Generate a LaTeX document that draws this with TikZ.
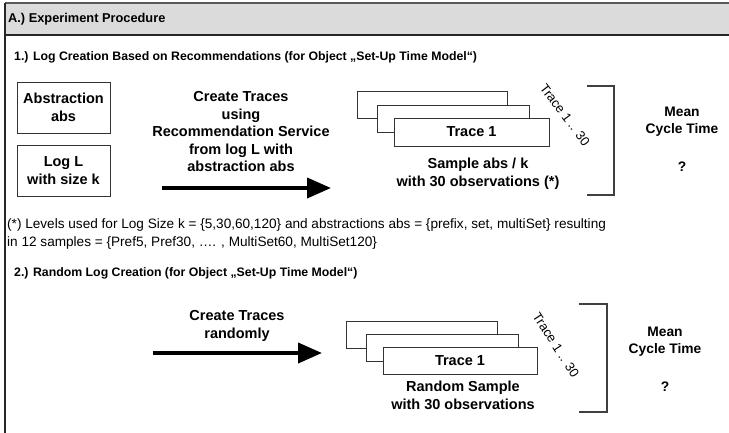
\documentclass[tikz,border=0pt]{standalone}
\usepackage{fontspec}
\setmainfont{Liberation Sans}
\usetikzlibrary{arrows.meta}
\begin{document}
\begin{tikzpicture}[x=1pt,y=-1pt,
  lbl/.style={font=\bfseries\fontsize{14.5}{17.5}\selectfont,align=center,inner sep=0pt},
  mlbl/.style={font=\bfseries\fontsize{13.8}{17.5}\selectfont,align=center,inner sep=0pt},
  ttl/.style={font=\bfseries\fontsize{12.3}{14}\selectfont,anchor=west,inner sep=0pt},
  inbox/.style={draw=black!80,line width=0.9pt,fill=white,inner sep=0pt,minimum width=93pt,minimum height=51pt,font=\bfseries\fontsize{14.5}{17.5}\selectfont,align=center},
  tracebox/.style={draw=black!80,line width=0.9pt,fill=white,inner sep=0pt,minimum height=27pt,font=\bfseries\fontsize{14.5}{17.5}\selectfont},
  bigarrow/.style={line width=4pt,-{Triangle[length=24pt,width=20pt]}},
  brk/.style={draw=black!75,line width=1.3pt},
  rot/.style={font=\fontsize{13}{15}\selectfont,inner sep=0pt}]
\useasboundingbox (0,0) rectangle (729,432);
% header
\path[fill=black!14] (5,3) rectangle (735,35);
\draw[black!65,line width=1.2pt] (5,3) -- (735,3);
\draw[black!85,line width=2pt] (5,35) -- (735,35);
\draw[black!85,line width=1.3pt] (5,3) -- (5,440);
\node[ttl,font=\bfseries\fontsize{12.8}{14}\selectfont] (hdr) at (8,19) {A.) Experiment Procedure};
% section 1
\node[ttl] (t1) at (14,57) {1.) Log Creation Based on Recommendations (for Object „Set-Up Time Model“)};
\node[inbox] (abs) at (63.5,107.5) {Abstraction\\abs};
\node[inbox] (logl) at (63.5,170.5) {Log L\\with size k};
\node[lbl] (ct1) at (241,132) {Create Traces\\using\\Recommendation Service\\from log L with\\abstraction abs};
\coordinate (a1s) at (162,188);
\coordinate (a1e) at (331,188);
\draw[bigarrow] (a1s) -- (a1e);
\node[tracebox,minimum width=150pt] (b13) at (432.5,105) {};
\node[tracebox,minimum width=152pt] (b12) at (453,119) {};
\node[tracebox,minimum width=155pt,minimum height=28pt] (b11) at (471.5,132) {Trace 1};
\node[lbl] (s1) at (478,173.5) {Sample abs / k\\with 30 observations (*)};
\node[rot,rotate=-53] (r1) at (565,115) {Trace 1 .. 30};
\coordinate (k1a) at (587,86);
\coordinate (k1b) at (614,86);
\coordinate (k1c) at (614,195);
\coordinate (k1d) at (587,195);
\draw[brk] (k1a) -- (k1b) -- (k1c) -- (k1d);
\node[mlbl] (m1) at (682,121.5) {Mean\\Cycle Time};
\node[mlbl] (q1) at (682,167) {?};
% footnote
\node[anchor=west,align=left,inner sep=0pt,font=\fontsize{13.6}{18}\selectfont] (fn) at (7,234) {(*) Levels used for Log Size k = \{5,30,60,120\} and abstractions abs = \{prefix, set, multiSet\} resulting\\in 12 samples = \{Pref5, Pref30, …. , MultiSet60, MultiSet120\}};
% section 2
\node[ttl] (t2) at (14,273) {2.) Random Log Creation (for Object „Set-Up Time Model“)};
\node[lbl] (ct2) at (237,326) {Create Traces\\randomly};
\coordinate (a2s) at (153,353);
\coordinate (a2e) at (322,353);
\draw[bigarrow] (a2s) -- (a2e);
\node[tracebox,minimum width=151pt] (b23) at (421.5,334.5) {};
\node[tracebox,minimum width=152pt] (b22) at (442,347.5) {};
\node[tracebox,minimum width=154pt,minimum height=27pt] (b21) at (460,361) {Trace 1};
\node[lbl] (s2) at (463,395.5) {Random Sample\\with 30 observations};
\node[rot,rotate=-57] (r2) at (556,345) {Trace 1 .. 30};
\coordinate (k2a) at (579,304);
\coordinate (k2b) at (607,304);
\coordinate (k2c) at (607,412);
\coordinate (k2d) at (579,412);
\draw[brk] (k2a) -- (k2b) -- (k2c) -- (k2d);
\node[mlbl] (m2) at (665,341.5) {Mean\\Cycle Time};
\node[mlbl] (q2) at (665,387) {?};
\end{tikzpicture}
\end{document}
